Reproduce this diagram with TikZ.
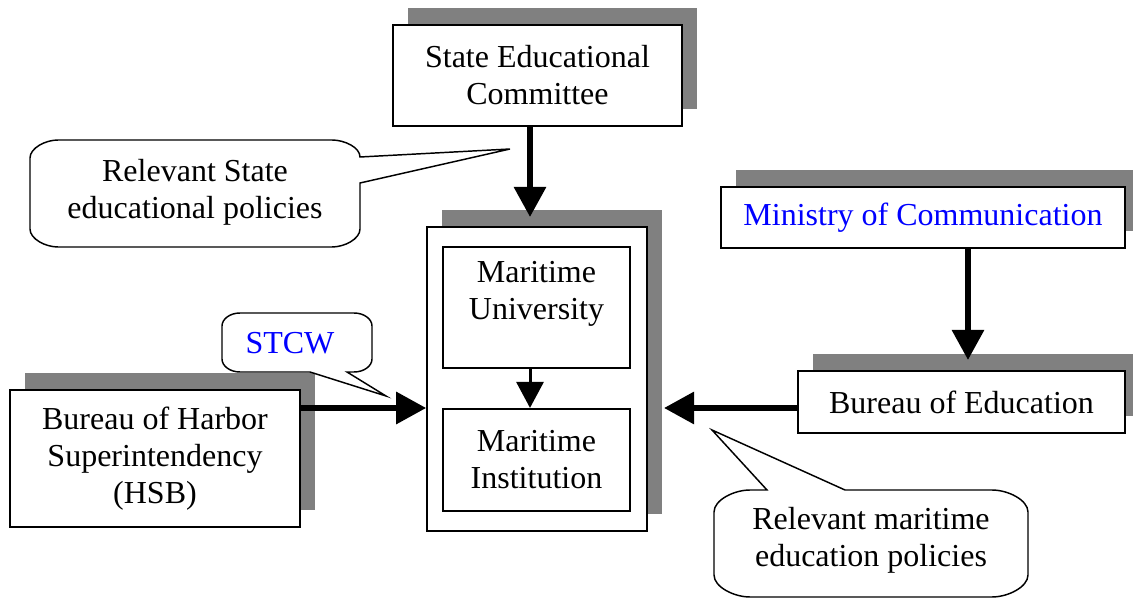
\documentclass[tikz,border=0pt]{standalone}
\usepackage{fontspec}
\setmainfont{Liberation Serif}
\usetikzlibrary{arrows.meta,shadows,calc}
\definecolor{shadowgray}{RGB}{128,128,128}
\definecolor{tblue}{RGB}{0,0,255}
\newcommand\myfs{\fontsize{24}{27.75}\selectfont}
\def\u{0.75pt}
\tikzset{
  box/.style={draw, line width=1.2pt, fill=white, inner sep=0pt, align=center, font=\myfs},
  shadowed/.style={drop shadow={shadow xshift=11.25pt, shadow yshift=12.75pt, opacity=1, fill=shadowgray}},
  txt/.style={inner sep=0pt, align=center, font=\myfs},
  bigarrow/.style={line width=4.5pt, -{Triangle[length=22.5pt,width=23.25pt]}},
  smallarrow/.style={line width=2.25pt, -{Triangle[length=19.5pt,width=20.25pt]}},
  callout/.style={draw, line width=1.1pt, fill=white, line join=miter}
}
\begin{document}
\begin{tikzpicture}[x=0.75pt,y=-0.75pt]
\useasboundingbox (0,0) rectangle (1133,598);
% boxes
\node[box, shadowed, minimum width=289*\u, minimum height=101*\u] (sec) at (537.5,75.5) {State Educational\\Committee};
\node[box, shadowed, minimum width=220*\u, minimum height=304*\u] (outer) at (537,379) {};
\node[box, line width=1.6pt, minimum width=187*\u, minimum height=121*\u] (mu) at (536.5,307.5) {};
\node[txt] (mut) at (536.5,294) {Maritime\\University};
\node[box, line width=1.6pt, minimum width=187*\u, minimum height=102*\u] (mi) at (536.5,460) {Maritime\\Institution};
\node[box, shadowed, minimum width=290*\u, minimum height=137*\u] (hsb) at (155,458.5) {Bureau of Harbor\\Superintendency\\(HSB)};
\node[box, shadowed, minimum width=404*\u, minimum height=61*\u, text=tblue] (mc) at (923,217.5) {Ministry of Communication};
\node[box, shadowed, minimum width=327*\u, minimum height=62*\u] (boe) at (961.5,402) {Bureau of Education};
% connectors
\coordinate (t1) at (530,217);
\coordinate (y2) at (0,408);
\coordinate (t3) at (664,408);
\coordinate (t4) at (968,360);
\draw[bigarrow] (sec.south -| t1) -- (t1);
\draw[smallarrow] (mu.south -| t1) -- (mi.north -| t1);
\draw[bigarrow] (hsb.east |- y2) -- (outer.west |- y2);
\draw[bigarrow] (boe.west |- t3) -- (t3);
\draw[bigarrow] (mc.south -| t4) -- (t4);
% callouts
\draw[callout] (360,183) -- (510,149) -- (360,157) .. controls (360,147.4) and (344.5,140) .. (332,140) -- (58,140) .. controls (45.5,140) and (30,148) .. (30,158) -- (30,229) .. controls (30,239) and (45.5,247) .. (58,247) -- (332,247) .. controls (344.5,247) and (360,239) .. (360,229) -- cycle;
\node[txt] (c1t) at (195,192.5) {Relevant State\\educational policies};
\draw[callout] (310,372) -- (386,396) -- (347,372) -- (354,372) .. controls (364,372) and (372,366) .. (372,359) -- (372,326) .. controls (372,319) and (364,313) .. (354,313) -- (240,313) .. controls (230,313) and (222,319) .. (222,326) -- (222,359) .. controls (222,366) and (230,372) .. (240,372) -- cycle;
\node[txt, text=tblue, anchor=base] (c2t) at (290,354) {STCW};
\draw[callout] (767,490) -- (712,430) -- (845,490) -- (992,490) .. controls (1008,490) and (1028,500) .. (1028,512) -- (1028,575) .. controls (1028,587) and (1008,597) .. (992,597) -- (750,597) .. controls (734,597) and (714,587) .. (714,575) -- (714,512) .. controls (714,500) and (734,490) .. (750,490) -- cycle;
\node[txt] (c3t) at (871,540) {Relevant maritime\\education policies};
\end{tikzpicture}
\end{document}
